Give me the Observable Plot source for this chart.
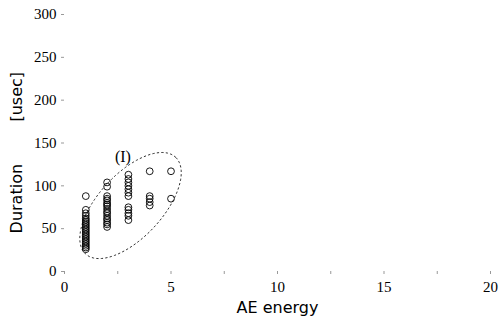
<!DOCTYPE html>
<html>
<head>
<meta charset="utf-8">
<script src="https://cdn.jsdelivr.net/npm/d3@7"></script>
<script src="https://cdn.jsdelivr.net/npm/@observablehq/plot@0.6"></script>
<style>
  html, body { margin: 0; padding: 0; background: #fff; }
  #chart { position: relative; width: 502px; height: 323px; }
</style>
</head>
<body>
<div id="chart"></div>
<script>
// AE energy level (x) and durations [usec] observed at each level
const energyLevels = [1, 2, 3, 4, 5];
const durations1 = [88, 72, 68, 65, 62, 60, 58, 56, 54, 52, 50, 48, 46, 44, 42, 40, 38, 36, 34, 32, 30, 28, 26];
const durations2 = [104, 99, 88, 85, 83, 80, 78, 76, 73, 70, 68, 65, 62, 60, 57, 55, 52];
const durations3 = [113, 108, 104, 100, 96, 92, 88, 75, 72, 68, 65, 60];
const durations4 = [117, 88, 85, 81, 77];
const durations5 = [117, 85];
const xTicks = [0, 5, 10, 15, 20];
const xMinorTicks = [0, 2.5, 5, 7.5, 10, 12.5, 15, 17.5, 20];
const yTicks = [0, 50, 100, 150, 200, 250, 300];
const clusterLabel = "(I)";

const seriesByLevel = [durations1, durations2, durations3, durations4, durations5];
const points = energyLevels.flatMap((e, i) => seriesByLevel[i].map(d => ({energy: e, duration: d})));

// cluster ellipse annotation (center / semi-axes in data units, y scaled by aspect k)
const k = 24.9;
const ell = {cx: 3.1, cy: 77, a: 3.1, b: 1.5, theta: 47 * Math.PI / 180};
const ellipse = d3.range(0, 361, 4).map(deg => {
  const t = deg * Math.PI / 180;
  const u = ell.a * Math.cos(t), v = ell.b * Math.sin(t);
  return {
    energy: ell.cx + u * Math.cos(ell.theta) - v * Math.sin(ell.theta),
    duration: ell.cy + (u * Math.sin(ell.theta) + v * Math.cos(ell.theta)) * k
  };
});

const serif = "'Liberation Serif', 'Times New Roman', serif";
const sans = "'DejaVu Sans', Arial, sans-serif";

const plot = Plot.plot({
  width: 502,
  height: 323,
  marginLeft: 64,
  marginRight: 12,
  marginTop: 14,
  marginBottom: 52,
  style: {background: "#fff", fontFamily: serif, fontSize: "15px", color: "#000", overflow: "visible"},
  x: {domain: [0, 20], label: null},
  y: {domain: [0, 300], label: null},
  marks: [
    Plot.axisX({ticks: xMinorTicks, text: null, tickSize: 3, stroke: "#999", label: null}),
    Plot.axisX({ticks: xTicks, tickSize: 0, tickPadding: 10, fontFamily: serif, fontSize: 15, fill: "#000", label: null}),
    Plot.axisY({ticks: yTicks, tickSize: 3, tickPadding: 5, anchor: "left", stroke: "#999", fontFamily: serif, fontSize: 15, fill: "#000", label: null}),
    Plot.line(ellipse, {x: "energy", y: "duration", stroke: "#333", strokeWidth: 1, strokeDasharray: "1.5,3", clip: false}),
    Plot.dot(points, {x: "energy", y: "duration", r: 3.4, stroke: "#000", strokeWidth: 0.9, fill: "none"}),
    Plot.text([clusterLabel], {x: 2.74, y: 134, text: d => d, fontFamily: serif, fontSize: 16, fill: "#000"}),
    Plot.text(["AE energy"], {frameAnchor: "bottom", dy: 41, text: d => d, fontFamily: sans, fontSize: 16, fill: "#000"}),
    Plot.text(["Duration"], {y: 85, frameAnchor: "left", dx: -48, rotate: -90, textAnchor: "middle", text: d => d, fontFamily: sans, fontSize: 16, fill: "#000"}),
    Plot.text(["[usec]"], {y: 204, frameAnchor: "left", dx: -48, rotate: -90, textAnchor: "middle", text: d => d, fontFamily: sans, fontSize: 16, fill: "#000"})
  ]
});
document.getElementById("chart").appendChild(plot);
</script>
</body>
</html>
